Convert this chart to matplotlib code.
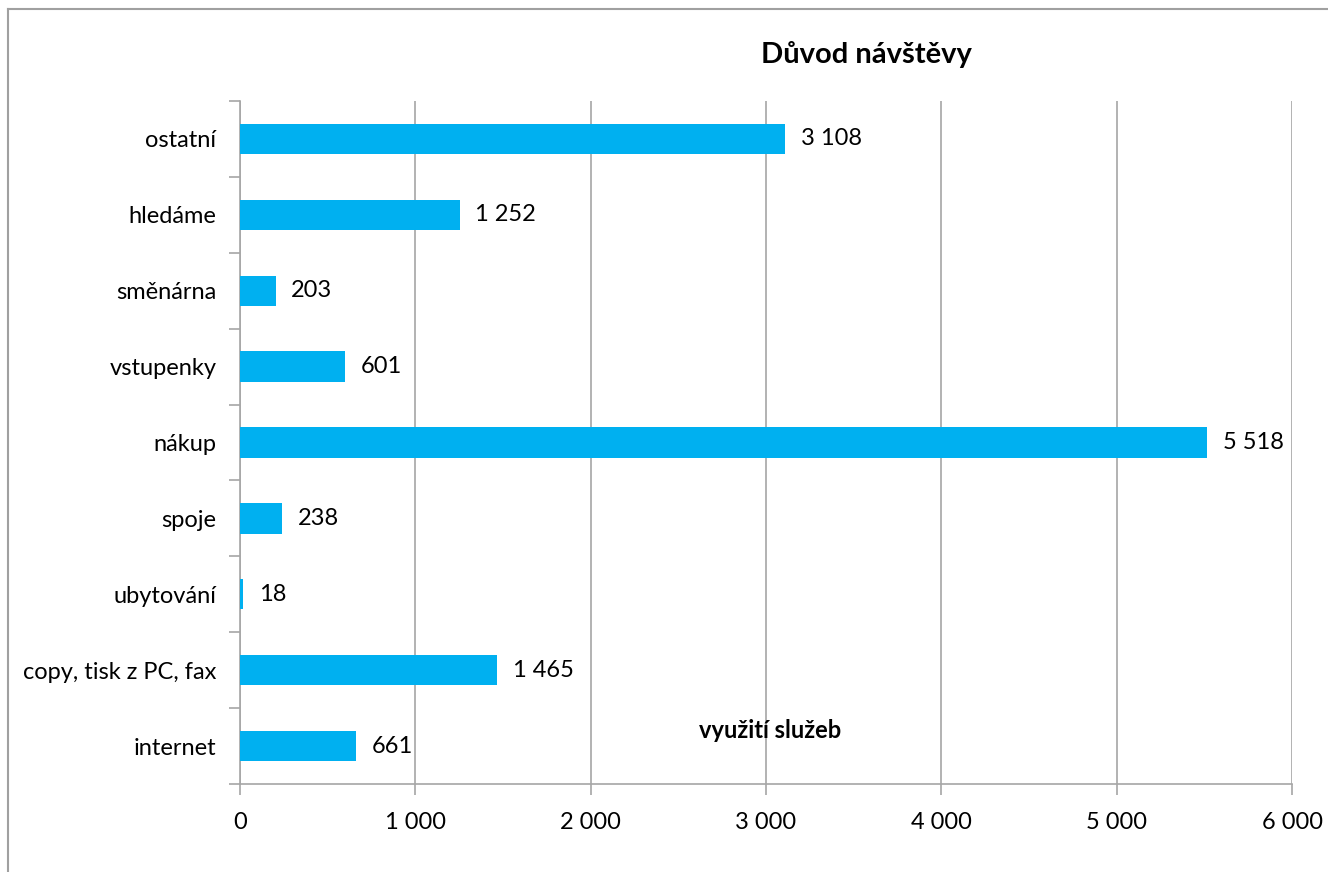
import matplotlib.pyplot as plt
from matplotlib.lines import Line2D
import numpy as np

categories = ['internet', 'copy, tisk z PC, fax', 'ubytování', 'spoje', 'nákup',
              'vstupenky', 'směnárna', 'hledáme', 'ostatní']
values = [661, 1465, 18, 238, 5518, 601, 203, 1252, 3108]
xticks = [0, 1000, 2000, 3000, 4000, 5000, 6000]


def fmt(v):
    return f'{v:,}'.replace(',', ' ')


plt.rcParams['font.family'] = ['Lato', 'DejaVu Sans']
grey = '#A6A6A6'
fs = 17

fig = plt.figure(figsize=(13.28, 8.72), dpi=100)
ax = fig.add_axes([240 / 1328, 1 - 784 / 872, (1292 - 240) / 1328, (784 - 101) / 872])

y = np.arange(len(categories))
ax.barh(y, values, height=0.4, color='#00B0F0', zorder=3)
for yi, v in zip(y, values):
    ax.text(v + 90, yi, fmt(v), va='center', ha='left', fontsize=fs)

ax.set_xlim(0, 6000)
ax.set_ylim(-0.5, len(categories) - 0.5)
ax.set_xticks(xticks)
ax.set_xticklabels([fmt(t) for t in xticks], fontsize=fs)
ax.set_yticks(y)
ax.set_yticklabels(categories, fontsize=fs)
ax.tick_params(axis='y', length=0, pad=17)
ax.set_yticks(np.arange(-0.5, len(categories)), minor=True)
ax.tick_params(axis='y', which='minor', length=8, color=grey, width=1.2)
ax.tick_params(axis='x', length=8, color=grey, width=1.2, pad=12)
ax.grid(axis='x', color=grey, linewidth=1.2, zorder=0)
for s in ['top', 'right']:
    ax.spines[s].set_visible(False)
for s in ['left', 'bottom']:
    ax.spines[s].set_color(grey)
    ax.spines[s].set_linewidth(1.2)

fig.text(866 / 1328, 1 - 55 / 872, 'Důvod návštěvy', ha='center', va='center',
         fontsize=21, fontweight='bold')
fig.text(770 / 1328, 1 - 730 / 872, 'využití služeb', ha='center', va='center',
         fontsize=17, fontweight='bold')

# frame of the chart area (left and top edges visible)
fig.add_artist(Line2D([8 / 1328, 8 / 1328], [0, 1 - 9 / 872], transform=fig.transFigure,
                      color='#A0A0A0', linewidth=1.5))
fig.add_artist(Line2D([8 / 1328, 1], [1 - 9 / 872, 1 - 9 / 872], transform=fig.transFigure,
                      color='#A0A0A0', linewidth=1.5))

fig.savefig('out.png', dpi=100)
